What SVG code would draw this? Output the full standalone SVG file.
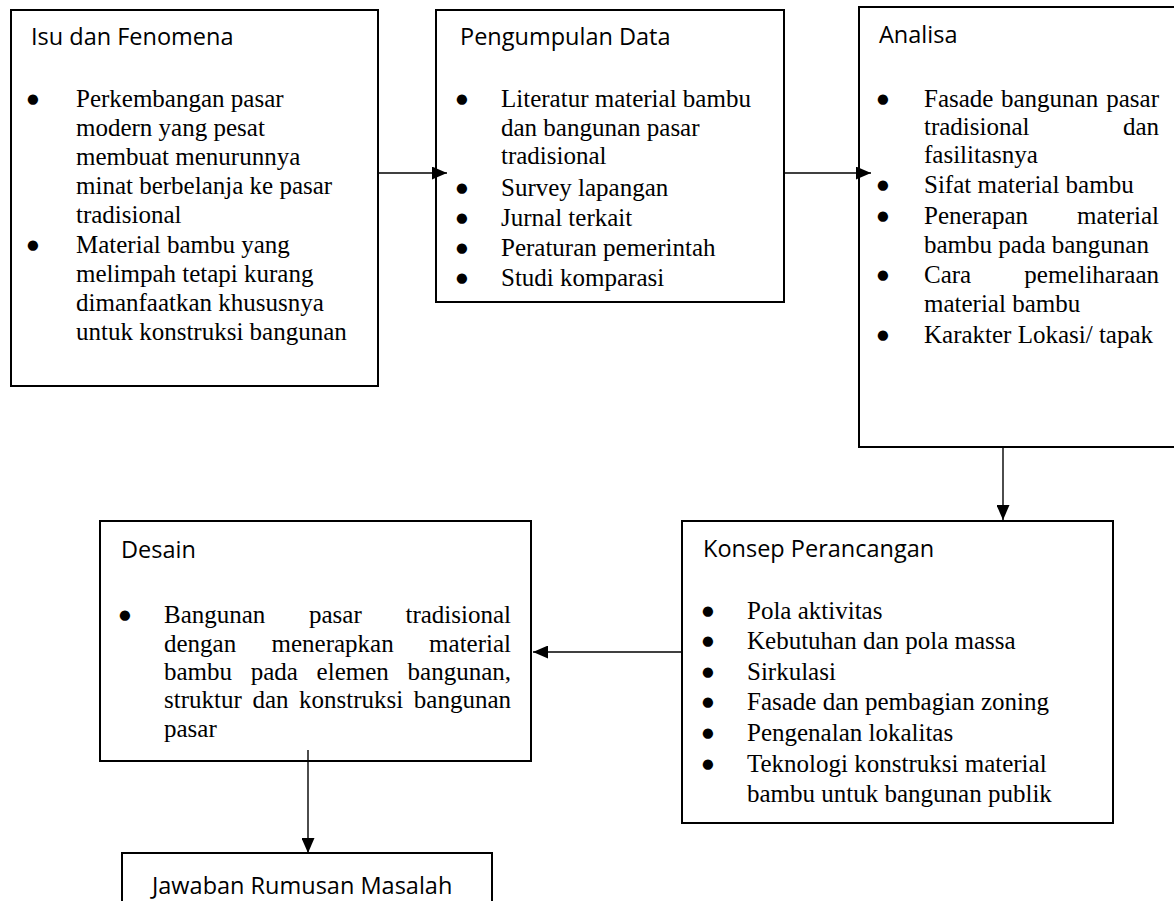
<svg xmlns="http://www.w3.org/2000/svg" width="1174" height="901" viewBox="0 0 1174 901">
  <defs>
    <marker id="arrow" markerUnits="userSpaceOnUse" markerWidth="16" markerHeight="13" refX="15" refY="6.5" orient="auto">
      <path d="M0,0 L15,6.5 L0,13 z" fill="#000"/>
    </marker>
    <style>
      .box { fill: #fff; stroke: #000; stroke-width: 2; }
      .title { font-family: "Open Sans", "Noto Sans", sans-serif; font-size: 23.5px; fill: #000; }
      .body { font-family: "Liberation Serif", "Times New Roman", serif; font-size: 25px; fill: #000; }
      .bullet { font-family: "DejaVu Sans", sans-serif; font-size: 13.5px; fill: #000; text-anchor: middle; }
      .link { fill: none; stroke: #000; stroke-width: 1.4; marker-end: url(#arrow); }
    </style>
  </defs>
  <rect width="1174" height="901" fill="#fff"/>

  <!-- Isu dan Fenomena -->
  <g id="isu-fenomena">
    <rect class="box" x="11" y="10" width="367" height="376"/>
    <text class="title" x="31" y="45">Isu dan Fenomena</text>
    <text class="bullet" x="33" y="103">●</text>
    <text class="body" x="76" y="107">Perkembangan pasar</text>
    <text class="body" x="76" y="136">modern yang pesat</text>
    <text class="body" x="76" y="165">membuat menurunnya</text>
    <text class="body" x="76" y="194">minat berbelanja ke pasar</text>
    <text class="body" x="76" y="223">tradisional</text>
    <text class="bullet" x="33" y="249">●</text>
    <text class="body" x="76" y="253">Material bambu yang</text>
    <text class="body" x="76" y="282">melimpah tetapi kurang</text>
    <text class="body" x="76" y="311">dimanfaatkan khususnya</text>
    <text class="body" x="76" y="340">untuk konstruksi bangunan</text>
  </g>

  <!-- Pengumpulan Data -->
  <g id="pengumpulan-data">
    <rect class="box" x="436" y="10" width="348" height="292"/>
    <text class="title" x="460" y="45">Pengumpulan Data</text>
    <text class="bullet" x="462" y="103">●</text>
    <text class="body" x="501" y="107">Literatur material bambu</text>
    <text class="body" x="501" y="136">dan bangunan pasar</text>
    <text class="body" x="501" y="164">tradisional</text>
    <text class="bullet" x="462" y="192">●</text>
    <text class="body" x="501" y="196">Survey lapangan</text>
    <text class="bullet" x="462" y="222">●</text>
    <text class="body" x="501" y="226">Jurnal terkait</text>
    <text class="bullet" x="462" y="252">●</text>
    <text class="body" x="501" y="256">Peraturan pemerintah</text>
    <text class="bullet" x="462" y="282">●</text>
    <text class="body" x="501" y="286">Studi komparasi</text>
  </g>

  <!-- Analisa -->
  <g id="analisa">
    <rect class="box" x="859" y="7" width="330" height="440"/>
    <text class="title" x="879" y="43">Analisa</text>
    <text class="bullet" x="883" y="103">●</text>
    <text class="body" y="107"><tspan x="924">Fasade</tspan><tspan x="1001">bangunan</tspan><tspan x="1159" text-anchor="end">pasar</tspan></text>
    <text class="body" y="135"><tspan x="924">tradisional</tspan><tspan x="1159" text-anchor="end">dan</tspan></text>
    <text class="body" x="924" y="163">fasilitasnya</text>
    <text class="bullet" x="883" y="189">●</text>
    <text class="body" x="924" y="193">Sifat material bambu</text>
    <text class="bullet" x="883" y="220">●</text>
    <text class="body" y="224"><tspan x="924">Penerapan</tspan><tspan x="1159" text-anchor="end">material</tspan></text>
    <text class="body" x="924" y="253">bambu pada bangunan</text>
    <text class="bullet" x="883" y="279">●</text>
    <text class="body" y="283"><tspan x="924">Cara</tspan><tspan x="1159" text-anchor="end">pemeliharaan</tspan></text>
    <text class="body" x="924" y="312">material bambu</text>
    <text class="bullet" x="883" y="339">●</text>
    <text class="body" x="924" y="343">Karakter Lokasi/ tapak</text>
  </g>

  <!-- Konsep Perancangan -->
  <g id="konsep-perancangan">
    <rect class="box" x="682" y="521" width="431" height="302"/>
    <text class="title" x="703" y="557">Konsep Perancangan</text>
    <text class="bullet" x="708" y="615">●</text>
    <text class="body" x="747" y="619">Pola aktivitas</text>
    <text class="bullet" x="708" y="645">●</text>
    <text class="body" x="747" y="649">Kebutuhan dan pola massa</text>
    <text class="bullet" x="708" y="676">●</text>
    <text class="body" x="747" y="680">Sirkulasi</text>
    <text class="bullet" x="708" y="706">●</text>
    <text class="body" x="747" y="710">Fasade dan pembagian zoning</text>
    <text class="bullet" x="708" y="737">●</text>
    <text class="body" x="747" y="741">Pengenalan lokalitas</text>
    <text class="bullet" x="708" y="768">●</text>
    <text class="body" x="747" y="772">Teknologi konstruksi material</text>
    <text class="body" x="747" y="802">bambu untuk bangunan publik</text>
  </g>

  <!-- Desain -->
  <g id="desain">
    <rect class="box" x="100" y="521" width="431" height="240"/>
    <text class="title" x="121" y="558">Desain</text>
    <text class="bullet" x="125" y="619">●</text>
    <text class="body" y="623"><tspan x="164">Bangunan</tspan><tspan x="309">pasar</tspan><tspan x="511" text-anchor="end">tradisional</tspan></text>
    <text class="body" y="652"><tspan x="164">dengan</tspan><tspan x="271.5">menerapkan</tspan><tspan x="511" text-anchor="end">material</tspan></text>
    <text class="body" y="680"><tspan x="164">bambu</tspan><tspan x="250.7">pada</tspan><tspan x="316.6">elemen</tspan><tspan x="511" text-anchor="end">bangunan,</tspan></text>
    <text class="body" y="708"><tspan x="164">struktur</tspan><tspan x="252.4">dan</tspan><tspan x="299.1">konstruksi</tspan><tspan x="511" text-anchor="end">bangunan</tspan></text>
    <text class="body" x="164" y="737">pasar</text>
  </g>

  <!-- Jawaban Rumusan Masalah -->
  <g id="jawaban">
    <rect class="box" x="122" y="853" width="370" height="60"/>
    <text class="title" x="152" y="894">Jawaban Rumusan Masalah</text>
  </g>

  <!-- connectors, drawn last so the arrow tips sit over the box edges -->
  <g id="connectors">
    <line class="link" x1="378" y1="173" x2="447" y2="173"/>
    <line class="link" x1="784" y1="173" x2="871" y2="173"/>
    <line class="link" x1="1003" y1="447" x2="1003" y2="520"/>
    <line class="link" x1="682" y1="652" x2="533" y2="652"/>
    <line class="link" x1="308" y1="750" x2="308" y2="853"/>
  </g>
</svg>
